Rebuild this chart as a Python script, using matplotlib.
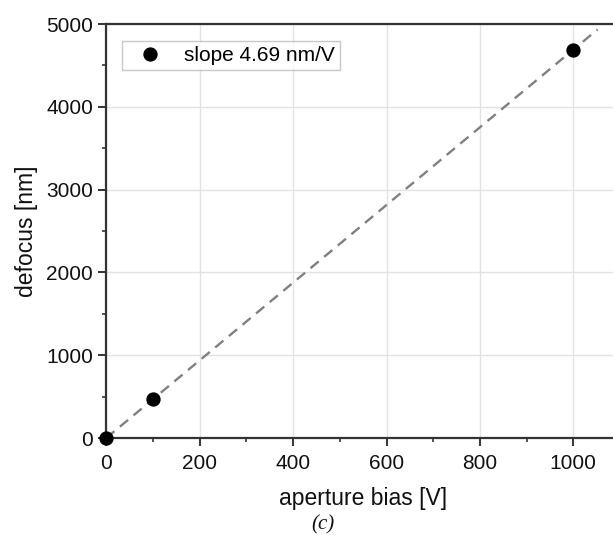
import matplotlib
matplotlib.use("Agg")
import matplotlib.pyplot as plt
import numpy as np
from matplotlib.ticker import MultipleLocator

plt.rcParams['font.family'] = ['Liberation Sans', 'DejaVu Sans']

bias = [0, 100, 1000]
defocus = [0, 472, 4690]
slope = 4.69
fit_x = [0, 1052]
legend_label = "slope 4.69 nm/V"

fig = plt.figure(figsize=(6.13, 5.35), dpi=100)
ax = fig.add_axes([106.3 / 613, 97 / 535, 513.7 / 613, 414 / 535])

ax.plot(fit_x, [slope * v for v in fit_x], linestyle=(0, (4.5, 3.0)), color='#808080',
        linewidth=1.7, zorder=2)
ax.plot(bias, defocus, 'o', color='black', markersize=9.3, label=legend_label,
        zorder=4, clip_on=False)

ax.set_xlim(0, 1100)
ax.set_ylim(0, 5000)
ax.xaxis.set_major_locator(MultipleLocator(200))
ax.xaxis.set_minor_locator(MultipleLocator(100))
ax.yaxis.set_major_locator(MultipleLocator(1000))
ax.yaxis.set_minor_locator(MultipleLocator(500))

ax.grid(True, which='major', color='#e3e3e3', linewidth=1.0, zorder=0)
ax.set_axisbelow(True)

for s in ['left', 'bottom', 'top']:
    ax.spines[s].set_color('#333333')
    ax.spines[s].set_linewidth(1.6)
ax.spines['right'].set_visible(False)

ax.tick_params(which='major', direction='out', length=6, width=1.4, color='#333333',
               labelsize=15, labelcolor='#111111', pad=3.5)
ax.tick_params(axis='x', which='major', pad=5.5)
ax.tick_params(which='minor', direction='out', length=3, width=1.2, color='#333333')
ax.tick_params(top=False, right=False, which='both')

ax.set_xlabel('aperture bias [V]', fontsize=16.5, color='#111111', labelpad=10)
ax.set_ylabel('defocus [nm]', fontsize=16.5, color='#111111', labelpad=6)

leg = ax.legend(loc='upper left', bbox_to_anchor=(15.5 / 513.7, 1 - 17 / 414),
                fontsize=15, frameon=True, fancybox=False, edgecolor='#bbbbbb',
                borderpad=0.25, handletextpad=0.55, handlelength=2.2, borderaxespad=0)
leg.get_frame().set_linewidth(1.0)

fig.text(323 / 613, 1 - 525 / 535, '(c)', fontsize=15, ha='center', va='center',
         family='Liberation Serif', style='italic', color='#111111')

fig.savefig('out.png', dpi=100)
